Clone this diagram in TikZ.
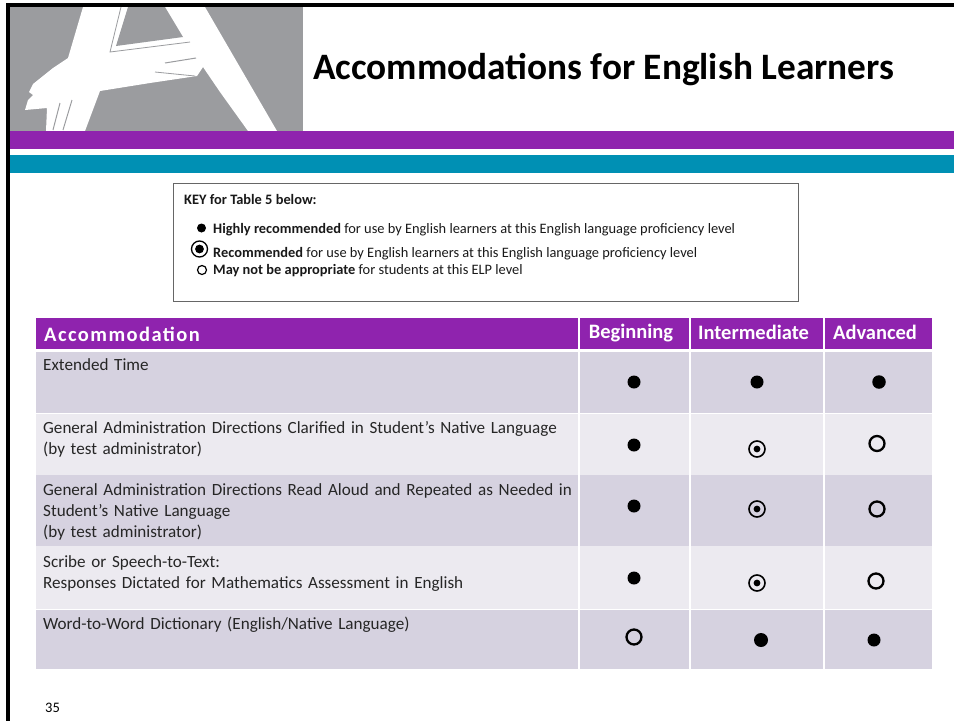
\documentclass[tikz,border=0pt]{standalone}
\usepackage{fontspec}
\setmainfont{Carlito}
\definecolor{purp}{HTML}{8F23AE}
\definecolor{teal2}{HTML}{0090B4}
\definecolor{grayA}{HTML}{9B9C9F}
\definecolor{rowd}{HTML}{D6D2E0}
\definecolor{rowl}{HTML}{ECEAF0}
\newcommand{\fs}[1]{\fontsize{#1}{21}\selectfont}
\tikzset{
 head/.style={font=\fs{20.5}\bfseries,text=white,inner sep=0},
 body/.style={font=\fs{17.1},text=black!85,inner sep=0,anchor=north west,align=left,text width=560pt},
 keyt/.style={font=\fs{14.4},text=black!90,inner sep=0,anchor=west},
 full/.style={circle,fill=black,inner sep=0,minimum size=#1},
 hollow/.style={circle,draw=black,line width=2.3pt,fill=none,inner sep=0,minimum size=#1},
 ring/.style={circle,draw=black,line width=1.6pt,fill=none,inner sep=0,minimum size=16pt,path picture={\fill[black] (path picture bounding box.center) circle (3.4pt);}},
}
\begin{document}
\begin{tikzpicture}[x=1pt,y=-1pt]
\useasboundingbox (0,0) rectangle (954,721);
% frame
\fill[black] (6,3) rectangle (954,7);
\fill[black] (6,3) rectangle (10,721);
% logo block
\fill[grayA] (10,7) rectangle (303,131);
\fill[white] (83,7) -- (68,58) -- (53,68) -- (33,84) -- (29,92) -- (33,95) -- (28,100) -- (25,110) -- (47,108) -- (46,131) -- (85,131) -- (100,91) -- (150,83) -- (197,76) -- (203,67) -- (220,92) -- (248,131) -- (277,131) -- (205,7) -- cycle;
\fill[grayA] (128,7) -- (116,46) -- (183,37) -- (165,7) -- cycle;
\draw[grayA,line width=.8pt] (121,7) -- (110,52) -- (190,42);
\draw[grayA,line width=1pt] (165,63) -- (196,58);
\draw[grayA,line width=.8pt] (155,72) -- (195,76);
\draw[grayA,line width=1pt] (60,103) -- (53,130);
\draw[grayA,line width=1pt] (72,100) -- (63,130);
% bands
\fill[purp] (10,131) rectangle (954,149);
\fill[teal2] (10,155) rectangle (954,173);
\node[font=\fontsize{37.3}{40}\selectfont\bfseries,text=black,anchor=west,inner sep=0] (title) at (313,70) {Accommodations for English Learners};
% key
\node[draw=black!60,line width=1pt,fill=white,minimum width=625pt,minimum height=118pt,inner sep=0,anchor=north west] (keybox) at (173,183) {};
\node[keyt,font=\fs{14.4}\bfseries] (keytitle) at (184,199) {KEY for Table 5 below:};
\node[full=9pt] (k1) at (201.5,228) {};
\node[keyt] (kt1) at (213,230) {\textbf{Highly recommended} for use by English learners at this English language proficiency level};
\node[circle,draw=black,line width=1.3pt,inner sep=0,minimum size=16pt,path picture={\fill[black] (path picture bounding box.center) circle (4.4pt);}] (k2) at (199.5,249) {};
\node[keyt] (kt2) at (213,254) {\textbf{Recommended} for use by English learners at this English language proficiency level};
\node[circle,draw=black,line width=1.2pt,inner sep=0,minimum size=9pt] (k3) at (202,270) {};
\node[keyt] (kt3) at (213,271) {\textbf{May not be appropriate} for students at this ELP level};
% table cells
\foreach \xa/\xb/\nm in {36/578/a,579.5/689/b,690.5/823/c,824.5/932/d}{
 \fill[purp] (\xa,318) rectangle (\xb,349);
 \fill[rowd] (\xa,352) rectangle (\xb,412.5);
 \fill[rowl] (\xa,414) rectangle (\xb,475);
 \fill[rowd] (\xa,475) rectangle (\xb,546);
 \fill[rowl] (\xa,546) rectangle (\xb,608.5);
 \fill[rowd] (\xa,610) rectangle (\xb,669);
}
\node[head,anchor=west,font=\fs{20.5}\bfseries\addfontfeature{LetterSpace=7}] (h1) at (44,334) {Accommodation};
\node[head] (h2) at (631,333) {Beginning};
\node[head] (h3) at (753.5,332.5) {Intermediate};
\node[head] (h4) at (875,332.5) {Advanced};
\node[body] (r1) at (43,358.5) {Extended Time};
\node[body] (r2) at (43,421) {General Administration Directions Clarified in Student’s Native Language\\(by test administrator)};
\node[body] (r3) at (43,483.5) {General Administration Directions Read Aloud and Repeated as Needed in\\Student’s Native Language\\(by test administrator)};
\node[body] (r4) at (43,555) {Scribe or Speech-to-Text:\\Responses Dictated for Mathematics Assessment in English};
\node[body] (r5) at (43,617) {Word-to-Word Dictionary (English/Native Language)};
% marks
\node[full=13pt] (m11) at (634,382) {};
\node[full=13pt] (m12) at (757,382) {};
\node[full=13.5pt] (m13) at (879,382) {};
\node[full=13pt] (m21) at (634,445) {};
\node[ring] (m22) at (757,449) {};
\node[hollow=15pt] (m23) at (877,443.5) {};
\node[full=13pt] (m31) at (634,506) {};
\node[ring] (m32) at (757,509) {};
\node[hollow=15pt] (m33) at (877,509) {};
\node[full=13pt] (m41) at (634,578) {};
\node[ring] (m42) at (757,583) {};
\node[hollow=15pt] (m43) at (876,581) {};
\node[hollow=15pt] (m51) at (634,637) {};
\node[full=14pt] (m52) at (761,640) {};
\node[full=13pt] (m53) at (874,640) {};
\node[font=\fs{14.5},anchor=west,inner sep=0] (pg) at (45,708) {35};
\end{tikzpicture}
\end{document}
